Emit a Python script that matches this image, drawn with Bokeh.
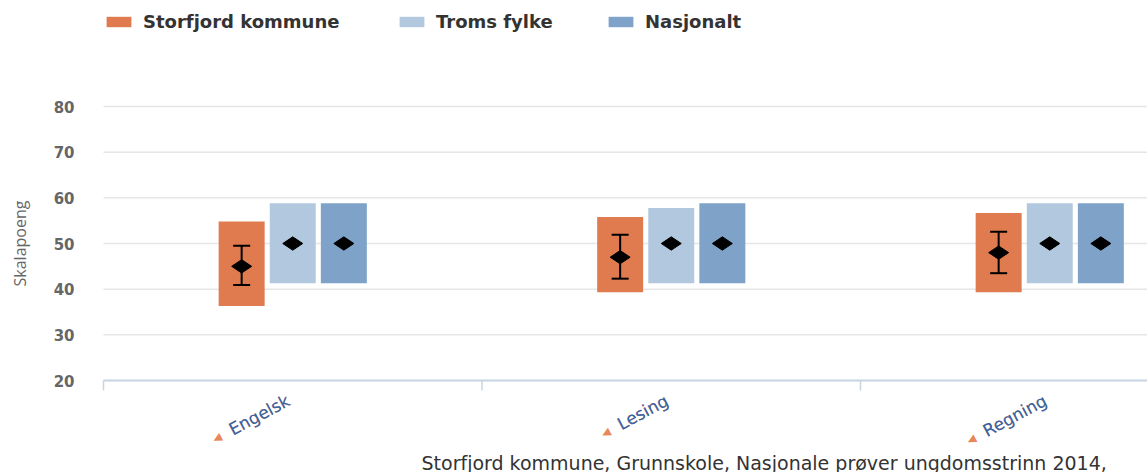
import math
from bokeh.plotting import figure
from bokeh.models import (ColumnDataSource, Range1d, Legend, LegendItem, Label, LabelSet)
from bokeh.transform import dodge
from bokeh.core.properties import value
from bokeh.embed import file_html
from bokeh.resources import INLINE

# ---- data ----
categories = ["Engelsk", "Lesing", "Regning"]
series_names = ["Storfjord kommune", "Troms fylke", "Nasjonalt"]
kommune_low = [36.3, 39.3, 39.3]
kommune_high = [54.8, 55.8, 56.7]
kommune_mean = [45.0, 47.0, 48.0]
kommune_ci_low = [40.9, 42.3, 43.5]
kommune_ci_high = [49.5, 51.9, 52.6]
fylke_low = [41.3, 41.3, 41.3]
fylke_high = [58.8, 57.8, 58.8]
fylke_mean = [50.0, 50.0, 50.0]
nasjonalt_low = [41.3, 41.3, 41.3]
nasjonalt_high = [58.8, 58.8, 58.8]
nasjonalt_mean = [50.0, 50.0, 50.0]
y_ticks = [20, 30, 40, 50, 60, 70, 80]
y_tick_labels = [str(t) for t in y_ticks]
y_axis_title = "Skalapoeng"
footer_text = "Storfjord kommune, Grunnskole, Nasjonale prøver ungdomsstrinn 2014,"
link_icon = "\u25C2"

# ---- style ----
colors = ["#E07B4F", "#B1C8DF", "#7FA3C8"]
offsets = [-0.135, 0.0, 0.135]
bar_width = 0.1215
FONT = "DejaVu Sans"
AXIS_COLOR = "#C8D5E3"
W, H = 1147, 472
PLOT_LEFT, PLOT_TOP, PLOT_BOTTOM = 103, 106, 380   # pixel layout of the plot area
CAT_PX = 378.5                                     # pixels per category

# scales: whole canvas is the frame, plot area positioned inside it
px_per_unit = (PLOT_BOTTOM - PLOT_TOP) / (y_ticks[-1] - y_ticks[0])
y_top = y_ticks[0] + PLOT_BOTTOM / px_per_unit
y_bottom = y_ticks[0] - (H - PLOT_BOTTOM) / px_per_unit
x_first = -0.5
x_start = x_first - PLOT_LEFT / CAT_PX
x_end = x_first + (W - PLOT_LEFT) / CAT_PX

xs = list(range(len(categories)))
src = ColumnDataSource(dict(
    x=xs,
    k_lo=kommune_low, k_hi=kommune_high, k_mean=kommune_mean,
    k_ci_lo=kommune_ci_low, k_ci_hi=kommune_ci_high,
    f_lo=fylke_low, f_hi=fylke_high, f_mean=fylke_mean,
    n_lo=nasjonalt_low, n_hi=nasjonalt_high, n_mean=nasjonalt_mean,
))

p = figure(width=W, height=H, output_backend="svg", toolbar_location=None,
           x_range=Range1d(x_start, x_end), y_range=Range1d(y_bottom, y_top),
           x_axis_location=None, y_axis_location=None,
           min_border_left=0, min_border_right=0, min_border_top=0, min_border_bottom=0)
p.outline_line_color = None
p.background_fill_color = "white"
p.border_fill_color = "white"
p.xgrid.grid_line_color = None
p.ygrid.grid_line_color = None

# horizontal grid lines at the y ticks
p.segment(x0=[x_first] * len(y_ticks), x1=[x_end] * len(y_ticks), y0=y_ticks, y1=y_ticks,
          line_color="#e6e6e6", line_width=1.5)

# y tick labels and y title
tick_src = ColumnDataSource(dict(x=[x_first] * len(y_ticks), y=y_ticks, text=y_tick_labels))
p.add_layout(LabelSet(x="x", y="y", text="text", source=tick_src, x_offset=-29,
                      text_align="right", text_baseline="middle", text_font=value(FONT),
                      text_font_size="15px", text_font_style="bold",
                      text_color="#666666"))
p.add_layout(Label(x=x_first, y=(y_ticks[0] + y_ticks[-1]) / 2, x_offset=-84,
                   text=y_axis_title, angle=math.pi / 2, text_align="center",
                   text_baseline="middle", text_font="Open Sans", text_font_size="16px",
                   text_color="#666666"))

# category axis line and separator ticks
p.segment(x0=[x_first], x1=[x_end], y0=[y_ticks[0]], y1=[y_ticks[0]],
          line_color=AXIS_COLOR, line_width=2)
boundaries = [i - 0.5 for i in range(len(categories) + 1)]
p.ray(x=boundaries, y=[y_ticks[0]] * len(boundaries), length=10, length_units="screen",
      angle=-math.pi / 2, line_color=AXIS_COLOR, line_width=1.5)

# bars
r_k = p.vbar(x=dodge("x", offsets[0]), bottom="k_lo", top="k_hi", width=bar_width,
             source=src, fill_color=colors[0], line_color=None)
r_f = p.vbar(x=dodge("x", offsets[1]), bottom="f_lo", top="f_hi", width=bar_width,
             source=src, fill_color=colors[1], line_color=None)
r_n = p.vbar(x=dodge("x", offsets[2]), bottom="n_lo", top="n_hi", width=bar_width,
             source=src, fill_color=colors[2], line_color=None)

# error bar for kommune
p.segment(x0=dodge("x", offsets[0]), y0="k_ci_lo", x1=dodge("x", offsets[0]), y1="k_ci_hi",
          source=src, line_color="black", line_width=2)
for col in ["k_ci_lo", "k_ci_hi"]:
    p.scatter(x=dodge("x", offsets[0]), y=col, source=src, marker="dash", size=17,
              line_color="black", line_width=2)

# diamonds
for off, col in zip(offsets, ["k_mean", "f_mean", "n_mean"]):
    p.scatter(x=dodge("x", off), y=col, source=src, marker="diamond", size=20,
              angle=math.pi / 2, fill_color="black", line_color="black")

# legends (one per series, positioned individually)
legend_x = [103, 396, 605]
for r, name, lx in zip([r_k, r_f, r_n], series_names, legend_x):
    lg = Legend(items=[LegendItem(label=name, renderers=[r])], location=(lx, H - 32),
                orientation="horizontal", glyph_width=31, glyph_height=13,
                label_standoff=9, padding=0, margin=0, border_line_color=None,
                background_fill_alpha=0, label_text_font=FONT,
                label_text_font_size="18px", label_text_font_style="bold",
                label_text_color="#333333")
    p.add_layout(lg)

# category labels (rotated) with small orange icon
for i, cat in enumerate(categories):
    common = dict(x=xs[i], y=y_ticks[0], x_units="data", y_units="data",
                  x_offset=-9, y_offset=-10,
                  angle=0.49, text_align="right", text_baseline="top",
                  text_font=FONT, text_font_size="17px")
    p.add_layout(Label(text=link_icon + "\u00a0\u00a0" + cat, text_color="#E8875A", **common))
    p.add_layout(Label(text=cat, text_color="#3366AA", **common))

# footer
p.add_layout(Label(x=421, y=10, x_units="screen", y_units="screen", text=footer_text,
                   text_font=FONT, text_font_size="19px", text_color="#333333",
                   text_baseline="alphabetic", text_align="left"))

open("out.html", "w").write(file_html(p, INLINE))
